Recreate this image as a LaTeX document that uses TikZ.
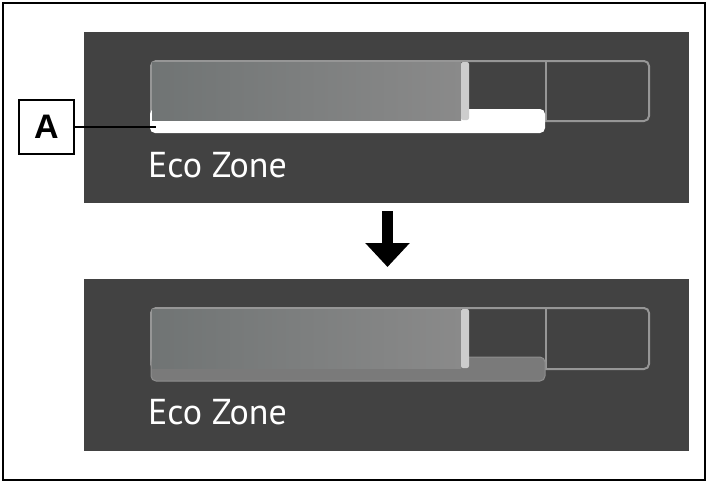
\documentclass[tikz,border=0pt]{standalone}
\usepackage{fontspec}
\setsansfont{PT Sans}
\newfontfamily\labelfont{Liberation Sans}
\usetikzlibrary{arrows.meta,positioning}
\definecolor{panelgray}{RGB}{66,66,66}
\definecolor{framegray}{RGB}{150,150,150}
\definecolor{levelleft}{RGB}{112,116,116}
\definecolor{levelright}{RGB}{138,138,138}
\definecolor{stripegray}{RGB}{205,205,205}
\definecolor{zonegray}{RGB}{122,122,122}
\definecolor{zoneedge}{RGB}{142,142,142}

\begin{document}
\begin{tikzpicture}[x=1pt, y=-1pt,
  panel/.style={fill=panelgray},
  frame/.style={draw=framegray, line width=2pt, rounded corners=5pt},
  level/.style={left color=levelleft, right color=levelright},
  stripe/.style={fill=stripegray, rounded corners=2pt},
  zone/.style={rounded corners=5pt},
  ecotext/.style={anchor=base west, inner sep=0pt, text=white, font=\sffamily\fontsize{36}{36}\selectfont},
  callout/.style={draw, line width=2.5pt, minimum width=55pt, minimum height=54pt, inner sep=0pt, font=\labelfont\bfseries\fontsize{34}{34}\selectfont},
  leader/.style={line width=2.2pt},
  bigarrow/.style={line width=11pt, -{Triangle[width=43pt,length=24pt]}}
]
\useasboundingbox (0,0) rectangle (708,483);
\draw[line width=2.5pt] (3,3) rectangle (705,480);

% before
\fill[panel] (84,32) rectangle (689,203);
\draw[frame] (151,61) rectangle (649,121);
\draw[framegray, line width=2pt] (546,61) -- (546,121);
\fill[white, zone] (150,109) rectangle (545,133);
\shade[level] (152,62) rectangle (461,120);
\fill[stripe] (461,62) rectangle (469,120);
\node[ecotext] (eco1) at (148,177) {Eco Zone};

\node[callout] (A) at (46.5,127) {A};
\coordinate (zoneend) at (156,127);
\draw[leader] (A) -- (zoneend);

% arrow
\coordinate (arrtop) at (387.5,211);
\coordinate (arrbot) at (387.5,267);
\draw[bigarrow] (arrtop) -- (arrbot);

% after
\fill[panel] (84,279) rectangle (689,451);
\draw[frame] (151,308) rectangle (649,369);
\draw[framegray, line width=2pt] (546,308) -- (546,369);
\draw[zone, fill=zonegray, draw=zoneedge, line width=1pt] (151,357) rectangle (545,381);
\shade[level] (152,309) rectangle (461,368);
\fill[stripe] (461,309) rectangle (469,368);
\node[ecotext] (eco2) at (148,424) {Eco Zone};
\end{tikzpicture}
\end{document}
